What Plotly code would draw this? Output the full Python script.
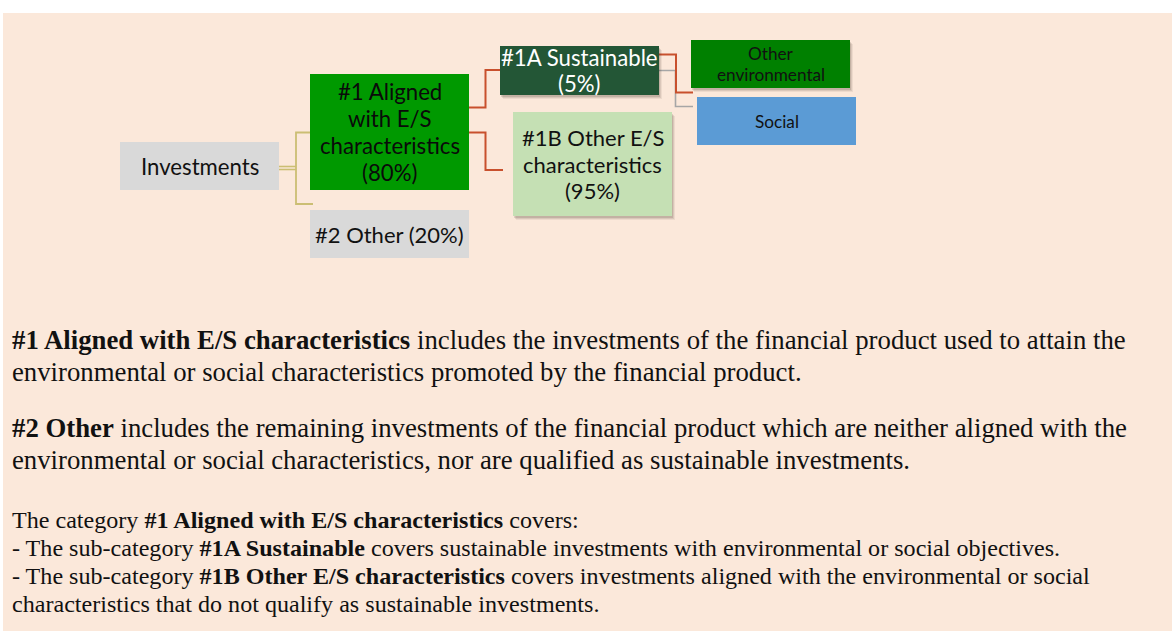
import plotly.graph_objects as go

# ---- data ----
node_names = ["Investments", "#1 Aligned with E/S characteristics", "#2 Other",
              "#1A Sustainable", "#1B Other E/S characteristics",
              "Other environmental", "Social"]
node_shares = [None, 80, 20, 5, 95, None, None]
# how each label is broken into lines inside its box
node_lines = [["Investments"],
              ["#1 Aligned", "with E/S", "characteristics"],
              ["#2 Other"],
              ["#1A Sustainable"],
              ["#1B Other E/S", "characteristics"],
              ["Other", "environmental"],
              ["Social"]]
edges = [(0, 1), (0, 2), (1, 3), (1, 4), (3, 5), (3, 6)]

para_lines_top = [
    "<b>#1 Aligned with E/S characteristics</b> includes the investments of the financial product used to attain the",
    "environmental or social characteristics promoted by the financial product.",
    "<b>#2 Other</b> includes the remaining investments of the financial product which are neither aligned with the",
    "environmental or social characteristics, nor are qualified as sustainable investments.",
]
para_lines_bottom = [
    "The category <b>#1 Aligned with E/S characteristics</b> covers:",
    "- The sub-category <b>#1A Sustainable</b> covers sustainable investments with environmental or social objectives.",
    "- The sub-category <b>#1B Other E/S characteristics</b> covers investments aligned with the environmental or social",
    "characteristics that do not qualify as sustainable investments.",
]

# ---- layout / styling (positions in pixels) ----
W, H = 1172, 631
BG = "#FBE8DA"
box_geom = [  # x0, y0, x1, y1
    (120, 142, 279, 190),
    (310, 74, 469, 190),
    (310, 210, 469, 258),
    (500, 46, 659, 95),
    (513, 112, 672, 216),
    (691, 40, 850, 88),
    (697, 97, 856, 145),
]
box_fill = ["#D9D9D9", "#009900", "#D9D9D9", "#235636", "#C5E0B4", "#008000", "#5B9BD5"]
box_font_color = ["#111111", "#0a0a0a", "#111111", "#FFFFFF", "#111111", "#111111", "#111111"]
box_font_size = [22.2, 22.2, 22, 22.2, 22, 17.2, 17.2]
box_line_gap = [27, 27, 27, 26, 26.5, 21, 21]
box_shadow = [False, False, False, True, True, True, False]

GOLD = "#CBBE73"
RED = "#C8502D"
GREY = "#A6A6A6"

fig = go.Figure()
shapes = []
# panel
shapes.append(dict(type="rect", x0=3, y0=13, x1=W + 2, y1=H + 2, fillcolor=BG,
                   line=dict(width=0), layer="below"))

# connectors
def path(pts, color, width=1.8):
    d = "M " + " L ".join(f"{x},{y}" for x, y in pts)
    shapes.append(dict(type="path", path=d, line=dict(color=color, width=width)))

# Investments -> #1 / #2 (double gold line)
path([(279, 166.5), (296, 166.5)], GOLD, 1.6)
path([(279, 169.5), (296, 169.5)], GOLD, 1.6)
path([(310, 132.5), (296, 132.5), (296, 204), (313, 204)], GOLD, 1.8)
# #1 -> #1A
path([(469, 107.5), (485.5, 107.5), (485.5, 70), (500, 70)], RED, 2)
# #1 -> #1B
path([(469, 132.5), (485.5, 132.5), (485.5, 170), (503, 170)], RED, 2)
# #1A -> Social (grey)
path([(659, 70.5), (675.5, 70.5), (675.5, 106.5), (693, 106.5)], GREY, 1.6)
# #1A -> Other environmental (red)
path([(659, 54.5), (676, 54.5), (676, 92.5), (693, 92.5)], RED, 2)

# boxes
for i, (x0, y0, x1, y1) in enumerate(box_geom):
    if box_shadow[i]:
        for k, a in ((4, 0.07), (3, 0.10), (2, 0.14)):
            shapes.append(dict(type="rect", x0=x0 + k - 1, y0=y0 + k, x1=x1 + k - 1, y1=y1 + k,
                               fillcolor=f"rgba(60,40,30,{a})", line=dict(width=0)))
    shapes.append(dict(type="rect", x0=x0, y0=y0, x1=x1, y1=y1,
                       fillcolor=box_fill[i], line=dict(width=0)))

annotations = []
for i, (x0, y0, x1, y1) in enumerate(box_geom):
    lines = list(node_lines[i])
    if node_shares[i] is not None:
        if i == 2:
            lines[-1] = lines[-1] + f" ({node_shares[i]}%)"
        else:
            lines.append(f"({node_shares[i]}%)")
    cy = (y0 + y1) / 2
    n = len(lines)
    for j, ln in enumerate(lines):
        annotations.append(dict(
            x=(x0 + x1) / 2, y=cy + (j - (n - 1) / 2) * box_line_gap[i], xref="x", yref="y",
            text=ln, showarrow=False,
            xanchor="center", yanchor="middle", align="center",
            font=dict(family="Lato, Carlito, sans-serif", size=box_font_size[i],
                      color=box_font_color[i])))

top_y = [340, 372, 428, 460]
for txt, y in zip(para_lines_top, top_y):
    annotations.append(dict(x=10, y=y, xref="x", yref="y", text=txt, showarrow=False,
                            xanchor="left", yanchor="middle", align="left",
                            font=dict(family="Liberation Serif, Times New Roman, serif",
                                      size=26.75, color="#111111")))
bot_y = [520, 548, 576, 604]
for txt, y in zip(para_lines_bottom, bot_y):
    annotations.append(dict(x=10, y=y, xref="x", yref="y", text=txt, showarrow=False,
                            xanchor="left", yanchor="middle", align="left",
                            font=dict(family="Liberation Serif, Times New Roman, serif",
                                      size=24.1, color="#111111")))

fig.update_layout(
    width=W, height=H, margin=dict(l=0, r=0, t=0, b=0),
    paper_bgcolor="white", plot_bgcolor="white",
    xaxis=dict(range=[0, W], visible=False, fixedrange=True),
    yaxis=dict(range=[H, 0], visible=False, fixedrange=True),
    shapes=shapes, annotations=annotations, showlegend=False,
)
fig.write_html("out.html", config={"displayModeBar": False},
               post_script="document.body.style.margin='0px';document.body.style.overflow='hidden';")
